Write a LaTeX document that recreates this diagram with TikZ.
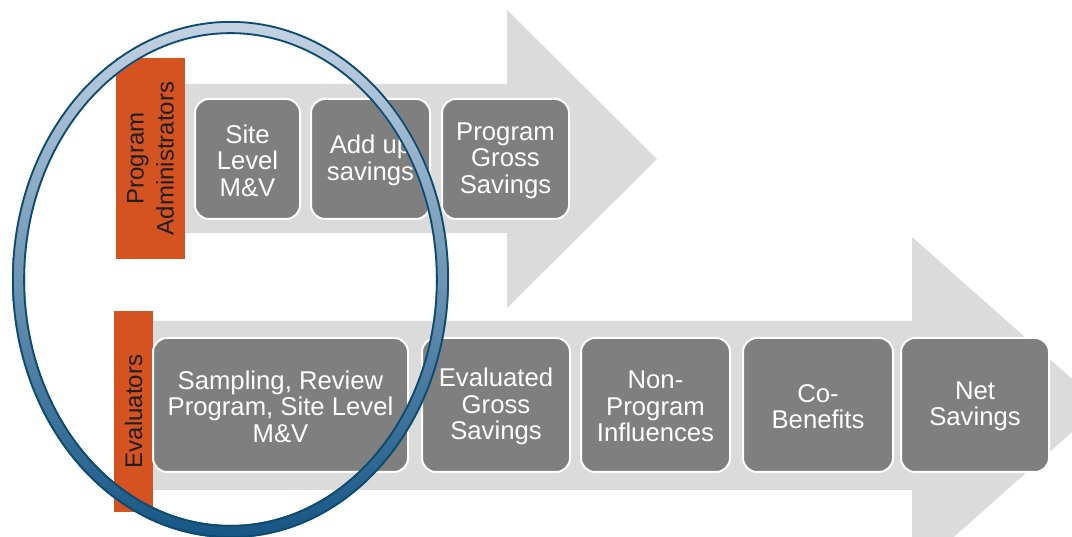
\documentclass[tikz,border=0pt]{standalone}
\usepackage{fontspec}
\setmainfont{Liberation Sans}
\begin{document}
\begin{tikzpicture}[x=1pt,y=1pt,
  arrowgray/.style={fill=gray!28, draw=none},
  rolebar/.style={rectangle, fill=roleorange, draw=none, inner sep=0pt, text=black!88,
    font=\fontsize{24}{30}\selectfont, align=center, rotate=90},
  steptext/.style={text=white, font=\fontsize{25.7}{26.5}\selectfont, align=center,
    inner sep=0pt, yshift=-1.5pt},
  stepbox/.style={rectangle, rounded corners=14pt, fill=boxgray, draw=white, line width=2pt,
    inner sep=0pt, label={[steptext]center:{#1}}},
  ringedge/.style={draw=ringdark, line width=1.8pt}
]
\definecolor{roleorange}{RGB}{213,82,33}
\definecolor{boxgray}{RGB}{127,127,127}
\definecolor{ringdark}{RGB}{12,74,110}
\definecolor{ringlight}{RGB}{196,211,227}
\definecolor{ringlow}{RGB}{22,86,132}
\useasboundingbox (0,0) rectangle (1072,537);
\clip (0,0) rectangle (1072,537);

% big arrows
\path[arrowgray] (185,453) -- (507,453) -- (507,527) -- (657,378) -- (507,229) -- (507,304) -- (185,304) -- cycle;
\path[arrowgray] (153,216) -- (912,216) -- (912,300) -- (1102,131.5) -- (912,-37) -- (912,47) -- (153,47) -- cycle;

% role bars
\node[rolebar, minimum width=201pt, minimum height=69pt] (pa) at (150.5,378.5) {Program\\Administrators};
\node[rolebar, minimum width=201pt, minimum height=39pt] (ev) at (133.5,125.5) {Evaluators};

% top steps
\node[stepbox={Site\\Level\\M\&V}, minimum width=105pt, minimum height=120pt] (site) at (247.5,378) {};
\node[stepbox={Add up\\savings}, minimum width=119pt, minimum height=120pt] (add) at (370.5,378) {};
\node[stepbox={Program\\Gross\\Savings}, minimum width=127pt, minimum height=120pt] (pgs) at (505.5,378) {};

% bottom steps
\node[stepbox={Sampling, Review\\Program, Site Level\\M\&V}, minimum width=255pt, minimum height=134pt] (samp) at (280.5,132) {};
\node[stepbox={Evaluated\\Gross\\Savings}, minimum width=148pt, minimum height=134pt] (egs) at (496,132) {};
\node[stepbox={Non-\\Program\\Influences}, minimum width=149pt, minimum height=134pt] (npi) at (655.5,132) {};
\node[stepbox={Co-\\Benefits}, minimum width=150pt, minimum height=134pt] (cob) at (818,132) {};
\node[stepbox={Net\\Savings}, minimum width=148pt, minimum height=134pt] (net) at (975,132) {};

% highlight ring
\coordinate (rc) at (230.5,257.5);
\path[fill=black, opacity=0.12, even odd rule, shift={(3,-3)}]
  (rc) ellipse [x radius=218.5, y radius=258.5] (rc) ellipse [x radius=205.5, y radius=245.5];
\shade[top color=ringlight, bottom color=ringlow, even odd rule]
  (rc) ellipse [x radius=218.5, y radius=258.5] (rc) ellipse [x radius=205.5, y radius=245.5];
\draw[ringedge] (rc) ellipse [x radius=217.6, y radius=257.6];
\draw[ringedge] (rc) ellipse [x radius=206.4, y radius=246.4];
\end{tikzpicture}
\end{document}
